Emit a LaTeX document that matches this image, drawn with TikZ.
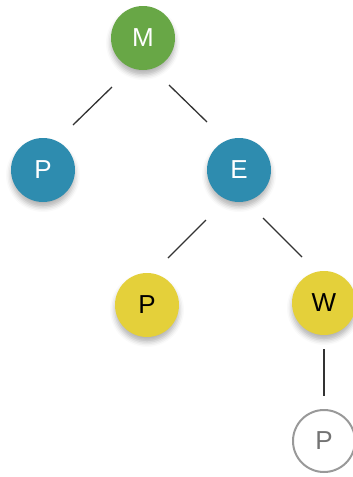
\documentclass[tikz,border=0pt]{standalone}
\usepackage{fontspec}
\setmainfont{Liberation Sans}
\usepackage{xcolor}
\usetikzlibrary{shadows.blur}

\definecolor{mgreen}{HTML}{68A746}
\definecolor{pblue}{HTML}{2E8CAF}
\definecolor{wyellow}{HTML}{E4D03A}

\begin{document}
\begin{tikzpicture}[x=1pt,y=-1pt,
    leaf/.style={circle,minimum size=64pt,inner sep=0pt,font=\fontsize{26}{26}\selectfont,
      blur shadow={shadow xshift=0pt,shadow yshift=-5pt,shadow blur radius=5pt,shadow opacity=30}},
    open/.style={circle,minimum size=62pt,inner sep=0pt,draw=black!40,line width=2pt,fill=white,
      text=black!55,font=\fontsize{26}{26}\selectfont},
    edge/.style={draw=black!80,line width=1.3pt}]
  \useasboundingbox (0,0) rectangle (353,477);
  \node[leaf,fill=mgreen,text=white] (m) at (143,38) {M};
  \node[leaf,fill=pblue,text=white] (pl) at (43,170) {P};
  \node[leaf,fill=pblue,text=white] (e) at (239,170) {E};
  \node[leaf,fill=wyellow,text=black] (pm) at (147,305) {P};
  \node[leaf,fill=wyellow,text=black] (w) at (324,303) {W};
  \node[open] (pr) at (324,441) {P};
  % short 45 degree stubs between the circles
  \coordinate (m-a) at ([shift={(-31,49)}]m.center);
  \coordinate (pl-a) at ([shift={(30,-45)}]pl.center);
  \coordinate (m-b) at ([shift={(26,47)}]m.center);
  \coordinate (e-a) at ([shift={(-32,-48)}]e.center);
  \coordinate (e-b) at ([shift={(-33,50)}]e.center);
  \coordinate (pm-a) at ([shift={(21,-47)}]pm.center);
  \coordinate (e-c) at ([shift={(24,48)}]e.center);
  \coordinate (w-a) at ([shift={(-22,-46)}]w.center);
  \coordinate (w-b) at ([shift={(0,46)}]w.center);
  \coordinate (pr-a) at ([shift={(0,-45)}]pr.center);
  \draw[edge] (m-a) -- (pl-a);
  \draw[edge] (m-b) -- (e-a);
  \draw[edge] (e-b) -- (pm-a);
  \draw[edge] (e-c) -- (w-a);
  \draw[edge] (w-b) -- (pr-a);
\end{tikzpicture}
\end{document}
